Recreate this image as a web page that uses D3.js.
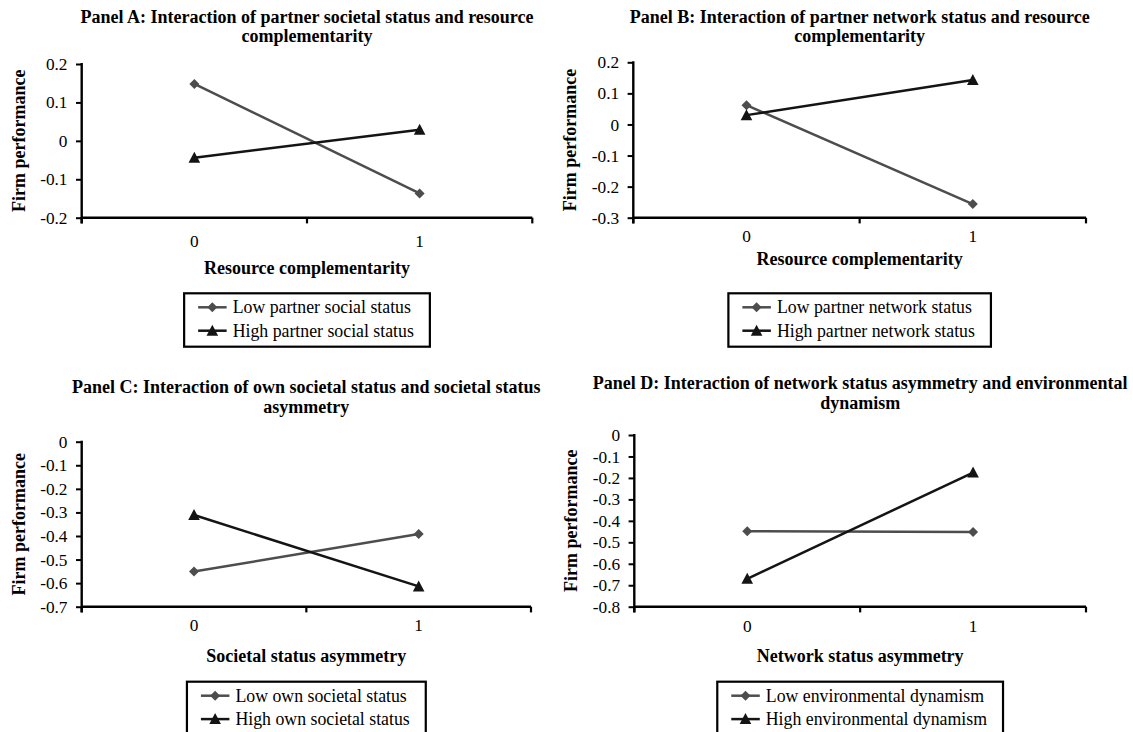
<!DOCTYPE html>
<html><head><meta charset="utf-8">
<script src="https://cdn.jsdelivr.net/npm/d3@7"></script>
<style>body{margin:0;background:#fff}svg{display:block}</style>
</head><body><svg id="chart" width="1133" height="732"></svg>
<script>
// ---------- data ----------
const categories = ["0", "1"];
const yAxisTitle = "Firm performance";

const titleA = ["Panel A: Interaction of partner societal status and resource", "complementarity"];
const titleB = ["Panel B: Interaction of partner network status and resource", "complementarity"];
const titleC = ["Panel C: Interaction of own societal status and societal status", "asymmetry"];
const titleD = ["Panel D: Interaction of network status asymmetry and environmental", "dynamism"];

const xTitleA = "Resource complementarity";
const xTitleB = "Resource complementarity";
const xTitleC = "Societal status asymmetry";
const xTitleD = "Network status asymmetry";

const legendA = ["Low partner social status", "High partner social status"];
const legendB = ["Low partner network status", "High partner network status"];
const legendC = ["Low own societal status", "High own societal status"];
const legendD = ["Low environmental dynamism", "High environmental dynamism"];

const lowA = [0.148, -0.137];
const highA = [-0.044, 0.029];
const lowB = [0.062, -0.256];
const highB = [0.03, 0.143];
const lowC = [-0.551, -0.392];
const highC = [-0.311, -0.614];
const lowD = [-0.448, -0.452];
const highD = [-0.67, -0.175];

const yTicksA = [-0.2, -0.1, 0, 0.1, 0.2];
const yTicksB = [-0.3, -0.2, -0.1, 0, 0.1, 0.2];
const yTicksC = [-0.7, -0.6, -0.5, -0.4, -0.3, -0.2, -0.1, 0];
const yTicksD = [-0.8, -0.7, -0.6, -0.5, -0.4, -0.3, -0.2, -0.1, 0];

// ---------- layout / style ----------
const FONT = "'Liberation Serif','Times New Roman',Times,serif";
const FS = 18, LEG_FS = 17.8, TICK_FS = 17.3;
const LOW_COLOR = "#4d4d4d", HIGH_COLOR = "#141414";

const panels = [
  {title: titleA, xTitle: xTitleA, legend: legendA, low: lowA, high: highA, ticks: yTicksA,
   L: {x0: 81.7, x1: 532.3, yTop: 64, yBot: 217.7, tY: 22.5, xLab: 247, xTit: 274, legTop: 293.3}},
  {title: titleB, xTitle: xTitleB, legend: legendB, low: lowB, high: highB, ticks: yTicksB,
   L: {x0: 633.3, x1: 1086, yTop: 62.3, yBot: 217.7, tY: 22.7, xLab: 241.7, xTit: 265, legTop: 293.3}},
  {title: titleC, xTitle: xTitleC, legend: legendC, low: lowC, high: highC, ticks: yTicksC,
   L: {x0: 81.7, x1: 531, yTop: 441.7, yBot: 606.7, tY: 393.3, xLab: 631.5, xTit: 662, legTop: 681.7}},
  {title: titleD, xTitle: xTitleD, legend: legendD, low: lowD, high: highD, ticks: yTicksD,
   L: {x0: 634.3, x1: 1086, yTop: 435, yBot: 606.7, tY: 389.3, xLab: 632, xTit: 662, legTop: 681.7}}
];

const svg = d3.select("#chart");
const fmt = d => String(Math.round(d * 10) / 10);
const diamond = d3.symbol(d3.symbolSquare, 50)();
const triangle = "M0,-6L5.8,5L-5.8,5Z";

function drawMarker(g, kind, x, y, color) {
  if (kind === "low") {
    g.append("path").attr("d", diamond).attr("fill", color)
      .attr("transform", `translate(${x},${y}) rotate(45)`);
  } else {
    g.append("path").attr("d", triangle).attr("fill", color)
      .attr("transform", `translate(${x},${y})`);
  }
}

panels.forEach(p => {
  const L = p.L;
  const g = svg.append("g");
  const x = d3.scaleBand().domain(categories).range([L.x0, L.x1]).paddingInner(0).paddingOuter(0);
  const y = d3.scaleLinear().domain(d3.extent(p.ticks)).range([L.yBot, L.yTop]);
  const cx = (L.x0 + L.x1) / 2;

  // Title
  const t = g.append("text").attr("text-anchor", "middle")
    .attr("font-family", FONT).attr("font-size", FS).attr("font-weight", "bold").attr("fill", "#000");
  p.title.forEach((s, i) => t.append("tspan").attr("x", cx).attr("y", L.tY + i * 19.4).text(s));

  // Y axis
  const ya = g.append("g").attr("transform", `translate(${L.x0},0)`)
    .call(d3.axisLeft(y).tickValues(p.ticks).tickSize(5.7).tickPadding(8.5).tickFormat(fmt));
  ya.select(".domain").remove();
  ya.selectAll("line").attr("stroke", "#000").attr("stroke-width", 2);
  ya.selectAll("text").attr("font-family", FONT).attr("font-size", TICK_FS).attr("fill", "#000");
  g.append("line").attr("x1", L.x0).attr("x2", L.x0).attr("y1", L.yTop - 1).attr("y2", L.yBot + 5.7)
    .attr("stroke", "#000").attr("stroke-width", 2.4);

  // X axis
  const pad = (L.xLab - L.yBot) - 0.71 * TICK_FS;
  const xa = g.append("g").attr("transform", `translate(0,${L.yBot})`)
    .call(d3.axisBottom(x).tickSize(0).tickPadding(pad));
  xa.select(".domain").remove();
  xa.selectAll("text").attr("font-family", FONT).attr("font-size", TICK_FS).attr("fill", "#000");
  g.append("line").attr("x1", L.x0).attr("x2", L.x1).attr("y1", L.yBot).attr("y2", L.yBot)
    .attr("stroke", "#000").attr("stroke-width", 2.4);
  const bounds = categories.map(c => x(c)).concat([x.range()[1]]);
  g.selectAll(".xb").data(bounds).enter().append("line")
    .attr("x1", d => d).attr("x2", d => d).attr("y1", L.yBot).attr("y2", L.yBot + 5.7)
    .attr("stroke", "#000").attr("stroke-width", 2.2);

  // Axis titles
  g.append("text").attr("x", cx).attr("y", L.xTit).attr("text-anchor", "middle")
    .attr("font-family", FONT).attr("font-size", FS).attr("font-weight", "bold").text(p.xTitle);
  g.append("text").attr("transform", `translate(${L.x0 - 57},${(L.yTop + L.yBot) / 2}) rotate(-90)`)
    .attr("text-anchor", "middle").attr("font-family", FONT).attr("font-size", FS)
    .attr("font-weight", "bold").text(yAxisTitle);

  // Series
  const line = d3.line().x((d, i) => x(categories[i]) + x.bandwidth() / 2).y(d => y(d));
  [["low", p.low, LOW_COLOR], ["high", p.high, HIGH_COLOR]].forEach(([k, vals, col]) => {
    g.append("path").datum(vals).attr("d", line).attr("fill", "none")
      .attr("stroke", col).attr("stroke-width", 2.5);
  });
  [["low", p.low, LOW_COLOR], ["high", p.high, HIGH_COLOR]].forEach(([k, vals, col]) => {
    vals.forEach((v, i) => drawMarker(g, k, x(categories[i]) + x.bandwidth() / 2, y(v), col));
  });

  // Legend
  const lg = g.append("g");
  const texts = p.legend.map((s, i) => lg.append("text").attr("font-family", FONT).attr("font-size", LEG_FS)
    .attr("fill", "#000").text(s));
  const maxW = d3.max(texts, t => t.node().getComputedTextLength());
  const bw = 48.5 + maxW + 16, bh = 53.4;
  const bx = cx - bw / 2, by = L.legTop;
  lg.insert("rect", "text").attr("x", bx).attr("y", by).attr("width", bw).attr("height", bh)
    .attr("fill", "#fff").attr("stroke", "#000").attr("stroke-width", 2.2);
  texts.forEach((t, i) => t.attr("x", bx + 48.5).attr("y", by + 20 + i * 23.4));
  [["low", LOW_COLOR], ["high", HIGH_COLOR]].forEach(([k, col], i) => {
    const ly = by + 14 + i * 23.4;
    lg.append("line").attr("x1", bx + 14).attr("x2", bx + 42.5).attr("y1", ly).attr("y2", ly)
      .attr("stroke", col).attr("stroke-width", 2.5);
    drawMarker(lg, k, bx + 28.2, ly, col);
  });
});
</script></body></html>
